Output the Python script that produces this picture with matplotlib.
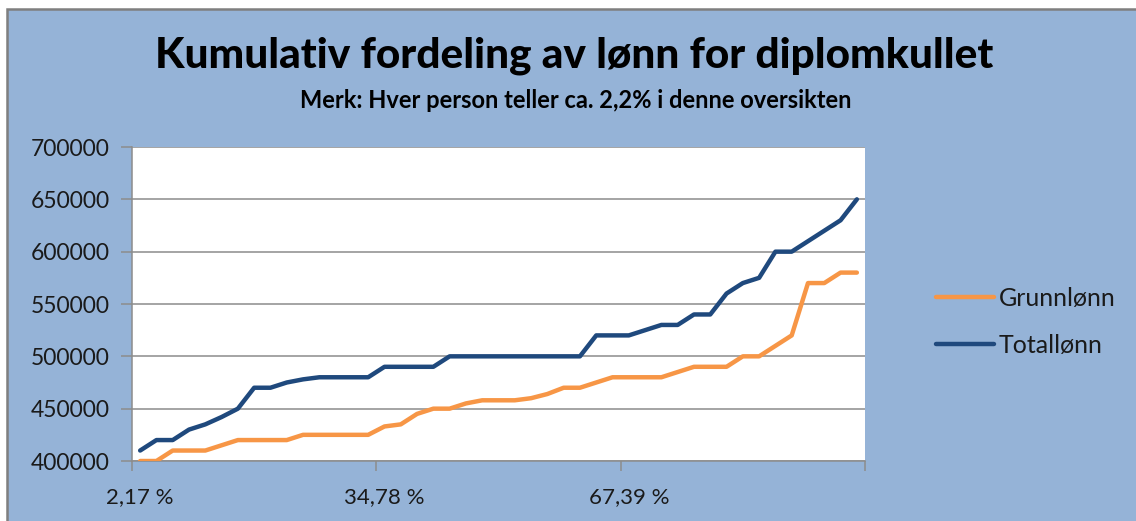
import matplotlib
matplotlib.use("Agg")
import matplotlib.pyplot as plt
from matplotlib.patches import Rectangle

plt.rcParams['font.family'] = ['Lato', 'DejaVu Sans']

# verdier lest av figuren (45 personer/punkter)
grunnlonn = [400000, 400000, 410000, 410000, 410000, 415000, 420000, 420000, 420000, 420000,
             425000, 425000, 425000, 425000, 425000, 433000, 435000, 445000, 450000, 450000,
             455000, 458000, 458000, 458000, 460000, 464000, 470000, 470000, 475000, 480000,
             480000, 480000, 480000, 485000, 490000, 490000, 490000, 500000, 500000, 510000,
             520000, 570000, 570000, 580000, 580000]
totallonn = [410000, 420000, 420000, 430000, 435000, 442000, 450000, 470000, 470000, 475000,
             478000, 480000, 480000, 480000, 480000, 490000, 490000, 490000, 490000, 500000,
             500000, 500000, 500000, 500000, 500000, 500000, 500000, 500000, 520000, 520000,
             520000, 525000, 530000, 530000, 540000, 540000, 560000, 570000, 575000, 600000,
             600000, 610000, 620000, 630000, 650000]
x_label_pos = [0, 15, 30]
x_labels = ['2,17 %', '34,78 %', '67,39 %']
y_ticks = [400000, 450000, 500000, 550000, 600000, 650000, 700000]

bg = '#95B3D7'
grid_col = '#8C8C8C'

fig = plt.figure(figsize=(11.36, 5.21), dpi=100)
fig.patch.set_facecolor('white')
# bakgrunn for diagramomraadet med graa kant
fig.add_artist(Rectangle((7 / 1136, -0.05), 1.2, 1.05 - 9 / 521, transform=fig.transFigure,
                         facecolor=bg, edgecolor='#7F7F7F', linewidth=1.8, zorder=-10))

ax = fig.add_axes([132 / 1136, 60 / 521, 733 / 1136, 314 / 521])
ax.set_facecolor('white')

x = list(range(len(grunnlonn)))
ax.plot(x, grunnlonn, color='#F79646', linewidth=3.2, label='Grunnlønn', solid_capstyle='round', zorder=3)
ax.plot(x, totallonn, color='#1F497D', linewidth=3.2, label='Totallønn', solid_capstyle='round', zorder=3)

ax.set_xlim(-0.5, len(x) - 0.5)
ax.set_ylim(400000, 700000)
ax.set_yticks(y_ticks)
ax.set_yticklabels([str(v) for v in y_ticks])
ax.yaxis.grid(True, color=grid_col, linewidth=1.1)
ax.set_axisbelow(True)

# tick-streker mellom kategoriene, etiketter paa kategoriene
ax.set_xticks([-0.5, 14.5, 29.5, 44.5])
ax.set_xticklabels([])
ax.set_xticks(x_label_pos, minor=True)
ax.set_xticklabels(x_labels, minor=True)
ax.tick_params(axis='x', which='major', length=7, width=1.1, color=grid_col, direction='out')
ax.tick_params(axis='x', which='minor', length=0, pad=19, labelsize=16, labelcolor='#1a1a1a')
ax.tick_params(axis='y', length=8, width=1.1, color=grid_col, pad=8, labelsize=16.5, labelcolor='#1a1a1a')

for s in ['top', 'right']:
    ax.spines[s].set_visible(False)
for s in ['left', 'bottom']:
    ax.spines[s].set_color(grid_col)
    ax.spines[s].set_linewidth(1.1)

fig.text(574 / 1136, 1 - 56 / 521, 'Kumulativ fordeling av lønn for diplomkullet',
         ha='center', va='center', fontsize=30.5, fontweight='black', color='black')
fig.text(576 / 1136, 1 - 100 / 521, 'Merk: Hver person teller ca. 2,2% i denne oversikten',
         ha='center', va='center', fontsize=17, fontweight='bold', color='black')

ax.legend(loc='center left', bbox_to_anchor=(936 / 1136, 1 - 322 / 521), bbox_transform=fig.transFigure,
          frameon=False, fontsize=18, handlelength=2.3, handletextpad=0.2, labelspacing=0.95,
          borderpad=0, borderaxespad=0, labelcolor='#1a1a1a')

fig.savefig('out.png', dpi=100, facecolor=fig.get_facecolor())
